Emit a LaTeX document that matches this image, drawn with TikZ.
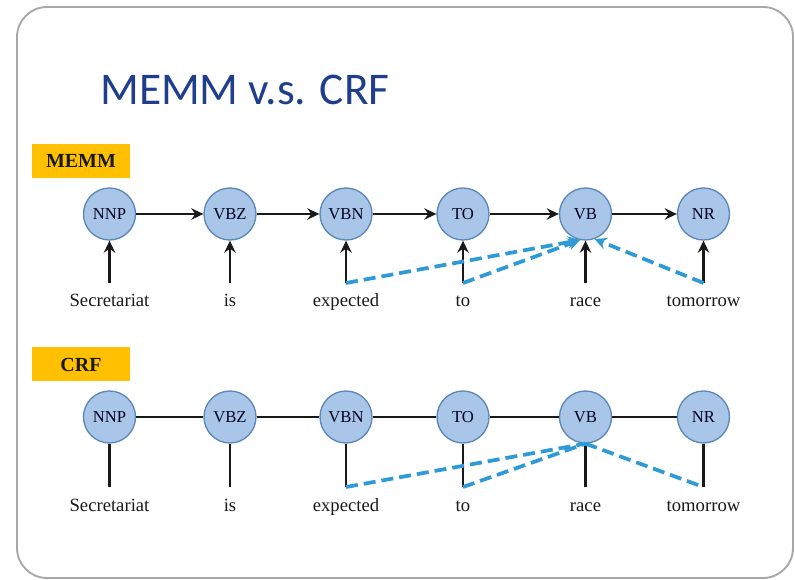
\documentclass[tikz,border=0pt]{standalone}
\usepackage{fontspec}
\setmainfont{Liberation Serif}
\newfontfamily\titlefont{Carlito}
\usetikzlibrary{arrows.meta}

\definecolor{titleblue}{HTML}{1F3F8C}
\definecolor{tagorange}{HTML}{FFC000}
\definecolor{statefill}{HTML}{A9C6E8}
\definecolor{stateline}{HTML}{5B87B9}
\definecolor{depblue}{HTML}{2E9AD6}
\definecolor{framegray}{HTML}{A8A8A8}

\begin{document}
\begin{tikzpicture}[x=0.75pt,y=-0.75pt,
  tag/.style={fill=tagorange, minimum width=73.5pt, minimum height=25.5pt,
    inner sep=0pt, font=\fontsize{15}{17}\selectfont\bfseries, text=black!90},
  state/.style={circle, draw=stateline, line width=1pt, fill=statefill,
    minimum size=39pt, inner sep=0pt, font=\fontsize{12.5}{14}\selectfont,
    text=black!75!blue!50!black},
  word/.style={anchor=base, inner sep=0pt, font=\fontsize{14}{16}\selectfont, text=black!90},
  link/.style={line width=2.2pt, black!90},
  arr/.style={link, -{Stealth[length=9pt, width=8.5pt, inset=3pt]}},
  dep/.style={depblue, line width=2.8pt, dash pattern=on 9pt off 4.5pt},
  deparr/.style={dep, -{Stealth[length=9pt, width=9pt, inset=3pt]}}
]
\useasboundingbox (0,0) rectangle (795,580);
\fill[white] (0,0) rectangle (795,580);

% slide frame
\draw[framegray, line width=1.4pt, rounded corners=22.5pt] (17,7) rectangle (793,578);

% title
\node[anchor=base west, inner sep=0pt, text=titleblue,
      font=\titlefont\fontsize{34}{40}\selectfont] (title) at (100,105) {MEMM v.s. CRF};

% ---------------- MEMM ----------------
\node[tag] (memmtag) at (81,161) {MEMM};

\foreach \n/\t/\x in {NNP/NNP/109.5, VBZ/VBZ/230, VBN/VBN/346, TO/TO/463, VB/VB/585.5, NR/NR/703.5}
  \node[state] (m\n) at (\x,214) {\t};

\foreach \n/\w/\x in {NNP/Secretariat/109.5, VBZ/is/230, VBN/expected/346, TO/to/463, VB/race/585.5, NR/tomorrow/703.5}{
  \node[word] (mw\n) at (\x,307) {\w};
  \coordinate (mc\n) at (\x,283);
  \draw[arr] (mc\n) -- (m\n);
}

\draw[arr] (mNNP) -- (mVBZ);
\draw[arr] (mVBZ) -- (mVBN);
\draw[arr] (mVBN) -- (mTO);
\draw[arr] (mTO) -- (mVB);
\draw[arr] (mVB) -- (mNR);

\draw[deparr] (mcVBN) -- (mVB.258);
\draw[deparr] (mcTO) -- (mVB.258);
\draw[deparr] (mcNR) -- (mVB.290);

% ---------------- CRF ----------------
\node[tag] (crftag) at (81,364.5) {CRF};

\foreach \n/\t/\x in {NNP/NNP/109.5, VBZ/VBZ/230, VBN/VBN/346, TO/TO/463, VB/VB/585.5, NR/NR/703.5}
  \node[state] (c\n) at (\x,417) {\t};

\foreach \n/\w/\x in {NNP/Secretariat/109.5, VBZ/is/230, VBN/expected/346, TO/to/463, VB/race/585.5, NR/tomorrow/703.5}{
  \node[word] (cw\n) at (\x,511) {\w};
  \coordinate (cc\n) at (\x,487);
  \draw[link] (cc\n) -- (c\n);
}

\draw[link] (cNNP) -- (cVBZ);
\draw[link] (cVBZ) -- (cVBN);
\draw[link] (cVBN) -- (cTO);
\draw[link] (cTO) -- (cVB);
\draw[link] (cVB) -- (cNR);

\draw[dep] (ccVBN) -- (cVB.south);
\draw[dep] (ccTO) -- (cVB.south);
\draw[dep] (cVB.south) -- (ccNR);

\end{tikzpicture}
\end{document}
